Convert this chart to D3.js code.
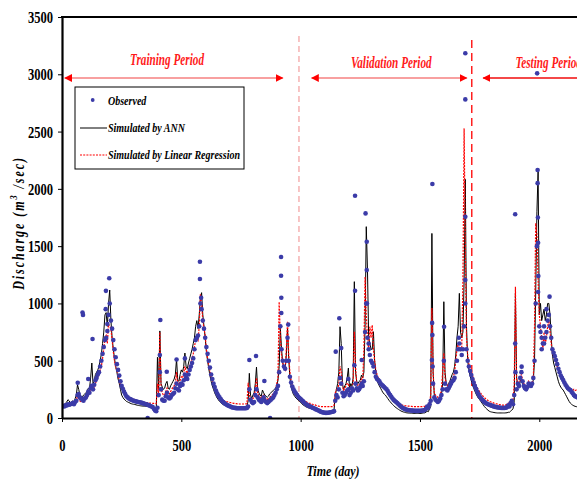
<!DOCTYPE html>
<html>
<head>
<meta charset="utf-8">
<script src="https://cdn.jsdelivr.net/npm/d3@7"></script>
<style>
  body { margin: 0; background: #fff; }
  svg text { font-family: "Liberation Serif", "Times New Roman", serif; font-weight: bold; }
</style>
</head>
<body>
<div id="chart"></div>
<script>
const width = 577;
const height = 482;

// days sampled every 5 days, 0..2160
const days = d3.range(0, 2161, 5);

// observed discharge (m3/sec), one value per 5 days, rows of 100 days
const observed = [
  100,105,100,110,110,120,115,120,125,130,120,140,150,200,210,180,170,160,150,170,
  180,200,230,220,260,280,250,290,330,350,380,400,450,500,560,620,680,700,760,900,
  1000,850,780,680,600,530,470,420,370,320,280,255,230,210,190,180,170,165,160,155,
  150,148,145,142,140,137,135,132,128,125,122,118,115,110,105,100,95,80,65,60,
  90,200,400,250,160,150,150,190,220,180,170,180,200,210,220,260,300,250,240,280,
  300,290,330,380,350,340,380,420,450,480,520,600,680,700,720,800,1000,950,850,780,
  700,620,560,500,440,380,340,300,270,240,215,195,180,165,150,140,130,122,115,110,
  105,100,95,92,90,88,86,85,85,85,85,85,85,85,86,88,100,250,160,140,
  130,140,200,250,180,160,150,140,160,180,150,140,130,140,150,160,170,180,200,220,
  250,280,400,800,600,500,450,430,500,700,500,360,310,275,250,230,215,200,185,175,
  165,155,145,135,125,118,110,105,100,95,90,85,80,75,70,65,60,55,50,48,
  46,45,45,46,48,50,52,55,60,150,200,180,250,350,300,220,190,200,220,240,
  250,200,220,260,240,460,300,260,240,250,270,300,280,320,750,1000,700,600,550,500,
  480,450,400,360,340,331,320,300,290,280,270,260,250,235,215,200,185,170,158,148,
  140,130,120,110,100,92,85,80,75,72,70,68,66,65,64,63,62,62,62,62,
  62,63,64,66,70,80,100,90,120,150,506,300,180,160,150,140,150,170,200,250,
  500,300,250,240,260,280,300,320,330,350,400,500,600,650,600,550,600,800,1000,600,
  500,450,410,375,340,310,280,255,230,210,190,175,162,150,140,132,125,120,115,112,
  108,104,100,97,95,93,91,89,88,87,87,88,90,95,110,100,130,150,120,200,
  400,250,300,280,350,400,320,280,260,250,270,300,290,280,300,350,500,1000,1500,1100,
  800,750,700,650,800,700,750,850,900,800,700,600,570,540,506,470,430,400,370,350,
  331,310,290,275,260,250,244,230,215,200,190,186,180
];

// simulated by ANN
const ann = [
  110,115,120,130,140,160,150,130,140,150,130,170,200,290,250,200,190,180,200,210,
  220,230,260,250,350,480,300,320,380,400,420,450,500,560,650,750,900,920,800,1000,
  1117,850,700,600,520,450,400,340,300,250,200,180,165,155,145,140,135,130,125,122,
  120,118,115,112,110,108,106,105,104,103,102,101,100,100,98,96,95,90,85,80,
  530,250,760,300,270,250,260,300,320,260,250,280,300,320,340,380,515,330,320,380,
  420,400,450,567,450,430,480,520,560,600,650,700,800,850,780,900,1050,1094,900,800,
  700,580,500,430,370,320,280,250,220,195,175,160,145,135,125,118,112,108,104,100,
  100,98,96,95,95,94,94,93,93,93,93,94,95,96,98,100,150,390,200,170,
  200,220,300,445,250,220,200,190,244,220,200,190,180,190,210,220,230,240,250,260,
  280,330,450,785,600,480,450,420,550,785,520,350,280,235,205,190,175,165,155,145,
  135,125,115,108,100,95,90,87,85,82,80,77,75,72,70,68,66,64,62,60,
  58,57,56,56,57,58,60,62,70,200,250,300,400,797,652,300,250,280,300,350,
  436,250,300,280,350,1190,400,320,300,320,330,375,350,400,800,1670,1300,700,650,600,
  600,753,500,400,330,300,280,260,240,220,210,200,185,170,155,142,130,118,108,98,
  90,82,75,68,62,57,53,50,47,45,44,43,42,42,41,41,40,40,40,40,
  40,40,42,44,45,50,60,55,80,100,1611,400,200,150,140,135,140,160,200,300,
  1015,400,300,280,300,320,350,380,400,450,550,700,800,1088,750,700,750,1200,2083,800,
  500,420,370,330,290,260,235,210,190,172,160,145,130,115,100,88,78,68,60,55,
  52,50,48,46,45,44,44,44,44,44,44,44,45,46,50,50,60,70,80,150,
  1088,350,280,260,320,350,300,260,250,260,280,300,290,280,300,330,500,1100,1800,2150,
  900,1000,850,900,950,850,900,1000,1000,900,700,550,480,440,400,360,320,290,270,255,
  244,225,205,185,165,145,130,120,112,106,102,99,98
];

// simulated by linear regression
const linReg = [
  120,120,118,120,120,125,125,120,125,130,120,140,150,200,180,150,140,150,140,160,
  180,170,200,210,240,300,280,260,300,330,360,380,420,450,520,600,700,720,650,820,
  800,780,680,580,500,440,420,370,330,290,260,240,220,210,200,190,180,175,170,165,
  165,160,155,150,148,145,142,140,138,136,135,134,132,130,130,128,128,127,126,125,
  300,200,750,260,220,200,200,230,260,220,210,230,250,270,280,310,400,300,290,330,
  360,350,390,450,410,390,430,460,490,520,560,620,680,700,680,800,1080,1000,850,780,
  720,600,520,460,410,360,320,290,260,240,220,200,185,175,165,158,150,145,142,140,
  138,135,132,130,128,126,125,124,123,122,122,122,122,122,123,124,308,200,170,160,
  170,180,250,350,220,190,180,170,200,200,180,170,160,170,180,190,200,210,220,240,
  300,350,1015,700,550,480,440,420,600,840,550,400,330,290,260,240,225,210,200,190,
  180,170,160,152,145,140,135,130,127,124,120,117,114,110,107,104,102,100,100,99,
  99,99,99,99,99,99,100,100,110,218,250,240,300,450,400,280,240,260,280,300,
  300,240,260,280,300,753,450,300,280,290,300,340,320,600,1233,900,700,600,797,700,
  811,600,500,420,380,350,330,310,300,285,270,255,240,225,205,186,175,165,155,145,
  138,130,125,120,116,113,110,108,106,105,104,103,102,101,100,100,100,100,100,100,
  100,100,100,101,102,105,110,110,140,200,960,400,220,200,190,180,185,200,250,400,
  567,350,300,280,300,310,320,340,360,400,500,600,650,600,580,600,1200,2528,1500,700,
  550,470,430,400,370,340,310,285,265,245,230,215,200,188,178,168,160,152,146,142,
  138,134,130,127,124,121,118,116,114,113,113,113,115,120,130,120,140,160,150,300,
  1146,300,320,300,330,380,330,300,290,280,290,320,300,290,310,340,800,1700,1600,1200,
  900,800,700,600,750,650,700,800,850,750,650,580,540,510,480,450,420,390,360,340,
  320,300,285,270,255,245,240,230,240,250,240,244,240
];

// extra observed points (day, value): peaks and outliers off the 5-day grid
const observedExtra = [
  [66,308],[86,920],[88,900],[110,340],[128,690],[183,950],[184,1110],[190,820],[198,1220],
  [359,0],[410,550],[412,855],[439,404],[480,510],[515,520],[578,1364],[578,1213],[583,1050],
  [785,506],[813,541],[848,323],[872,0],[918,1405],[918,1242],[919,1050],[919,916],[948,815],
  [1147,579],[1162,870],[1170,610],[1200,340],[1228,1111],[1228,1940],[1256,506],[1272,1786],
  [1277,1538],[1277,1291],[1278,1000],[1285,650],[1551,830],[1552,2042],[1552,724],[1553,450],
  [1601,797],[1663,700],[1690,3183],[1690,2781],[1690,1757],[1690,1204],[1899,1778],[1899,650],
  [1926,448],[1991,3008],[1993,2164],[1993,2050],[1994,1750],[1995,1530],[1996,1240],
  [2010,600],[2020,650],[2030,950],[2043,1059]
];

const yTicks = [0, 500, 1000, 1500, 2000, 2500, 3000, 3500];
const xTicks = [0, 500, 1000, 1500, 2000];

// period separators and arrows (days)
const splitDays = [993, 1717];
const periods = [
  { name: "Training Period", from: 12, to: 925, label: 440 },
  { name: "Validation Period", from: 1046, to: 1696, label: 1380 },
  { name: "Testing Period", from: 1765, to: 2200, label: 1900 }
];

const margin = { left: 62, top: 17, bottom: 418 };
const obsColor = "#3b3ba8";

const svg = d3.select("#chart").append("svg")
    .attr("width", width)
    .attr("height", height);

const x = d3.scaleLinear().domain([0, 2158]).range([margin.left, width]);
const y = d3.scaleLinear().domain([0, 3500]).range([margin.bottom, margin.top]);

// the source lettering is tall and narrow: squeeze text horizontally
function narrowText(parent, px, py, sx, size, rotate) {
  const g = parent.append("g")
      .attr("transform", `translate(${px},${py})` + (rotate ? ` rotate(${rotate})` : "") + ` scale(${sx},1)`);
  return g.append("text").attr("font-size", size);
}

svg.append("defs").append("clipPath").attr("id", "plot")
  .append("rect")
    .attr("x", margin.left).attr("y", margin.top)
    .attr("width", width - margin.left).attr("height", margin.bottom - margin.top);

const plot = svg.append("g").attr("clip-path", "url(#plot)");

// period separators
plot.append("line")
    .attr("x1", x(splitDays[0])).attr("x2", x(splitDays[0]))
    .attr("y1", 36).attr("y2", margin.bottom)
    .attr("stroke", "#f08a8a").attr("stroke-width", 1)
    .attr("stroke-dasharray", "6,4");
plot.append("line")
    .attr("x1", x(splitDays[1])).attr("x2", x(splitDays[1]))
    .attr("y1", 40).attr("y2", margin.bottom)
    .attr("stroke", "#ff2020").attr("stroke-width", 1.5)
    .attr("stroke-dasharray", "8,5");

// series lines
const line = d3.line()
    .x((d, i) => x(days[i]))
    .y(d => y(d));

plot.append("path")
    .datum(ann)
    .attr("fill", "none")
    .attr("stroke", "#000")
    .attr("stroke-width", 1)
    .attr("d", line);

plot.append("path")
    .datum(linReg)
    .attr("fill", "none")
    .attr("stroke", "#ff0000")
    .attr("stroke-width", 1.2)
    .attr("stroke-dasharray", "2,1.2")
    .attr("d", line);

// observed dots
const obsPoints = observed.map((v, i) => [days[i], v]).concat(observedExtra);
plot.selectAll(".obs")
  .data(obsPoints)
  .enter().append("circle")
    .attr("class", "obs")
    .attr("cx", d => x(d[0]))
    .attr("cy", d => y(d[1]))
    .attr("r", 2.3)
    .attr("fill", obsColor);

// arrows
const defs = svg.select("defs");
defs.append("marker")
    .attr("id", "arrowRed")
    .attr("viewBox", "0 0 10 10")
    .attr("refX", 9).attr("refY", 5)
    .attr("markerWidth", 4).attr("markerHeight", 4)
    .attr("markerUnits", "strokeWidth")
    .attr("orient", "auto-start-reverse")
  .append("path")
    .attr("d", "M0,0L10,5L0,10Z")
    .attr("fill", "#ff0000");

const arrowY = 78;
periods.forEach((p, i) => {
  plot.append("line")
      .attr("x1", x(p.from)).attr("x2", x(p.to))
      .attr("y1", arrowY).attr("y2", arrowY)
      .attr("stroke", i === 2 ? "#f44848" : "#f8a0a0")
      .attr("stroke-width", 2)
      .attr("marker-start", "url(#arrowRed)")
      .attr("marker-end", i === 2 ? null : "url(#arrowRed)");
  narrowText(svg, x(p.label), i === 0 ? 65 : 68, 0.68, 16.5)
      .attr("text-anchor", i === 2 ? "start" : "middle")
      .attr("fill", "#ff1a1a")
      .attr("font-style", "italic")
      .text(p.name);
});

// axes
const tickScale = 0.74;
const yAxis = svg.append("g")
    .attr("transform", `translate(${margin.left},0)`)
    .call(d3.axisLeft(y).tickValues(yTicks).tickFormat(d3.format("d"))
      .tickSize(4).tickSizeOuter(0).tickPadding(5));
const xAxis = svg.append("g")
    .attr("transform", `translate(0,${margin.bottom})`)
    .call(d3.axisBottom(x).tickValues(xTicks).tickFormat(d3.format("d"))
      .tickSize(4).tickSizeOuter(0).tickPadding(17));

[yAxis, xAxis].forEach(a => {
  a.select(".domain").attr("stroke-width", 2.2);
  a.selectAll("text")
      .attr("font-size", 17)
      .attr("font-family", "'Liberation Serif', serif")
      .attr("font-weight", "bold")
      .attr("fill", "#000")
      .attr("transform", `scale(${tickScale},1)`);
});
yAxis.selectAll("text").attr("x", -9 / tickScale);

svg.append("line")
    .attr("x1", margin.left - 1).attr("x2", width)
    .attr("y1", margin.top).attr("y2", margin.top)
    .attr("stroke", "#000").attr("stroke-width", 2.2);

// axis titles
narrowText(svg, 333, 476, 0.8, 15)
    .attr("text-anchor", "middle")
    .attr("font-style", "italic")
    .text("Time (day)");

const yTitle = narrowText(svg, 24, 223, 0.75, 16, -90)
    .attr("text-anchor", "middle")
    .attr("font-style", "italic")
    .attr("letter-spacing", 2.6);
yTitle.append("tspan").text("Discharge (m");
yTitle.append("tspan").attr("dy", -7).attr("font-size", 11).text("3");
yTitle.append("tspan").attr("dy", 7).text(" /sec)");

// legend
const legend = svg.append("g").attr("transform", "translate(75,87)");
legend.append("rect")
    .attr("width", 169).attr("height", 82)
    .attr("fill", "#fff").attr("stroke", "#000").attr("stroke-width", 1);
legend.append("circle")
    .attr("cx", 17.7).attr("cy", 13).attr("r", 1.9).attr("fill", obsColor);
legend.append("line")
    .attr("x1", 5).attr("x2", 32).attr("y1", 41).attr("y2", 41)
    .attr("stroke", "#000").attr("stroke-width", 1);
legend.append("line")
    .attr("x1", 5).attr("x2", 32).attr("y1", 68).attr("y2", 68)
    .attr("stroke", "#ff0000").attr("stroke-width", 1.2).attr("stroke-dasharray", "2,1.2");
["Observed", "Simulated by ANN", "Simulated by Linear Regression"].forEach((t, i) => {
  narrowText(legend, 33, 17.5 + i * 27, 0.77, 13)
      .attr("font-style", "italic")
      .text(t);
});
</script>
</body>
</html>
